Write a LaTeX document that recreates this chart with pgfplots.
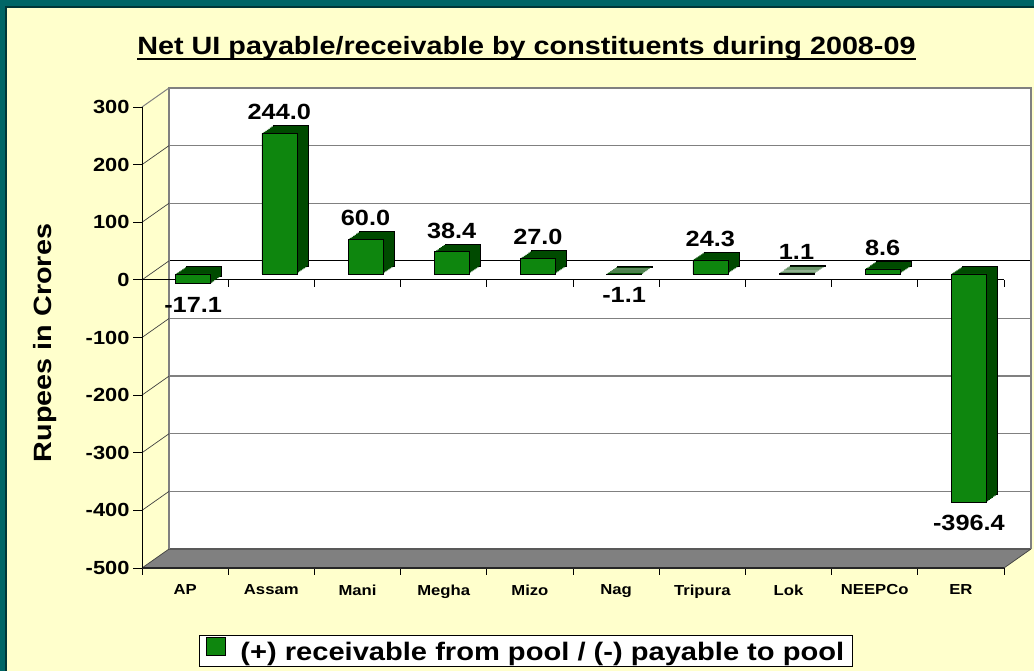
\documentclass[border=0pt]{standalone}
\usepackage{fontspec}
\setmainfont{Liberation Sans}[FakeStretch=1.15]
\usepackage{pgfplots}
\usepackage{pgfplotstable}
\pgfplotsset{compat=1.18}
\definecolor{tealbg}{RGB}{0,102,102}
\definecolor{tealdark}{RGB}{0,55,55}
\definecolor{bgyellow}{RGB}{255,255,204}
\definecolor{frontgreen}{RGB}{14,134,14}
\definecolor{sidegreen}{RGB}{0,74,0}
\definecolor{wallgrey}{RGB}{128,128,128}

\pgfplotstableread{
x y
0 -17.1
1 244.0
2 60.0
3 38.4
4 27.0
5 -1.1
6 24.3
7 1.1
8 8.6
9 -396.4
}\uidata

\begin{document}
\begin{tikzpicture}
\useasboundingbox (0,0) rectangle (1034pt,671pt);
\fill[tealbg] (0,0) rectangle (1034pt,671pt);
\fill[tealdark] (5pt,0) rectangle (1034pt,665pt);
\fill[bgyellow] (7pt,0) rectangle (1034pt,663pt);
\node[font=\bfseries\fontsize{25}{25}\selectfont, anchor=base, inner sep=0pt] (title) at (526.5pt,616pt) {Net UI payable/receivable by constituents during 2008-09};
\draw[line width=2pt] ([yshift=-4pt]title.base west) -- ([yshift=-4pt]title.base east);
\node[rotate=90, font=\bfseries\fontsize{25}{25}\selectfont] at (45pt,328pt) {Rupees in Crores};
\begin{axis}[
  at={(142pt,103pt)}, anchor=south west,
  scale only axis, width=862pt, height=461pt,
  xmin=-0.5, xmax=9.5, ymin=-500, ymax=300,
  clip=false, axis on top,
  axis x line*=bottom, axis y line*=left,
  x axis line style={line width=1.8pt, draw=black!85},
  y axis line style={line width=0.8pt, draw=black},
  tick align=outside, tick pos=left,
  xtick={0,...,9},
  xticklabels={AP,Assam,Mani,Megha,Mizo,Nag,Tripura,Lok,NEEPCo,ER},
  minor xtick={-0.5,0.5,...,9.5},
  major x tick style={draw=none},
  minor x tick style={draw=black, line width=0.8pt},
  minor tick length=7pt, major tick length=9pt,
  ytick={-500,-400,...,300},
  yticklabels={-500,-400,-300,-200,-100,0,100,200,300},
  y tick style={draw=black, line width=0.8pt},
  xticklabel style={font=\bfseries\fontsize{14.5}{14.5}\selectfont, yshift=-4pt},
  yticklabel style={font=\bfseries\fontsize{19}{19}\selectfont},
  /pgf/number format/assume math mode=true,
  legend style={at={(0.4455,-0.179)}, anchor=center, draw=black, line width=0.8pt, fill=white,
    font=\bfseries\fontsize{25.3}{25.3}\selectfont, inner xsep=6pt, inner ysep=2pt},
  legend image code/.code={\draw[fill=frontgreen, draw=black, line width=0.6pt] (0pt,-9pt) rectangle (19pt,9pt);},
]
% back wall
\fill[white] ([shift={(27pt,19pt)}]axis cs:-0.5,-500) rectangle ([shift={(27pt,19pt)}]axis cs:9.5,300);
% floor
\fill[wallgrey] (axis cs:-0.5,-500) -- (axis cs:9.5,-500) -- ([shift={(27pt,19pt)}]axis cs:9.5,-500) -- ([shift={(27pt,19pt)}]axis cs:-0.5,-500) -- cycle;
\draw[black!65, line width=1.2pt] ([shift={(27pt,19pt)}]axis cs:-0.5,-500) -- ([shift={(27pt,19pt)}]axis cs:9.5,-500);
% back grid lines
\pgfplotsinvokeforeach{-400,-300,-200,-100,100,200}{
  \draw[wallgrey, line width=1.3pt] ([shift={(27pt,19pt)}]axis cs:-0.5,#1) -- ([shift={(27pt,19pt)}]axis cs:9.5,#1);
}
\draw[black, line width=1.1pt] ([shift={(27pt,19pt)}]axis cs:-0.5,0) -- ([shift={(27pt,19pt)}]axis cs:9.5,0);
\draw[wallgrey, line width=1.3pt] ([shift={(27pt,19pt)}]axis cs:-0.5,-500) -- ([shift={(27pt,19pt)}]axis cs:-0.5,300) -- ([shift={(27pt,19pt)}]axis cs:9.5,300) -- ([shift={(27pt,19pt)}]axis cs:9.5,-500);
% side diagonals
\pgfplotsinvokeforeach{-500,-400,-300,-200,-100,0,100,200}{
  \draw[black!75, line width=0.7pt] (axis cs:-0.5,#1) -- ([shift={(27pt,19pt)}]axis cs:-0.5,#1);
}
\draw[wallgrey, line width=1pt] (axis cs:-0.5,300) -- ([shift={(27pt,19pt)}]axis cs:-0.5,300);
\draw[black!75, line width=0.7pt] (axis cs:9.5,-500) -- ([shift={(27pt,19pt)}]axis cs:9.5,-500);
% front zero line with ticks
\draw[black, line width=1pt] (axis cs:-0.5,0) -- (axis cs:9.5,0);
\pgfplotsinvokeforeach{0.5,1.5,2.5,3.5,4.5,5.5,6.5,7.5,8.5,9.5}{
  \draw[black, line width=0.8pt] (axis cs:#1,0) -- ++(0pt,-7pt);
}
% bar depth layers
\addplot[ybar, bar width=35pt, bar shift=19pt, yshift=13.7pt, fill=sidegreen, draw=black, line width=0.5pt, forget plot] table[x=x,y=y]{\uidata};
\addplot[ybar, bar width=35pt, bar shift=17.5pt, yshift=12.6pt, fill=sidegreen, draw=none, forget plot] table[x=x,y=y]{\uidata};
\addplot[ybar, bar width=35pt, bar shift=16pt, yshift=11.6pt, fill=sidegreen, draw=none, forget plot] table[x=x,y=y]{\uidata};
\addplot[ybar, bar width=35pt, bar shift=14.5pt, yshift=10.5pt, fill=sidegreen, draw=none, forget plot] table[x=x,y=y]{\uidata};
\addplot[ybar, bar width=35pt, bar shift=13pt, yshift=9.5pt, fill=sidegreen, draw=none, forget plot] table[x=x,y=y]{\uidata};
\addplot[ybar, bar width=35pt, bar shift=11.5pt, yshift=8.4pt, fill=sidegreen, draw=none, forget plot] table[x=x,y=y]{\uidata};
\addplot[ybar, bar width=35pt, bar shift=10pt, yshift=7.4pt, fill=sidegreen, draw=none, forget plot] table[x=x,y=y]{\uidata};
\addplot[ybar, bar width=35pt, bar shift=9pt, yshift=6.7pt, fill=sidegreen, draw=none, forget plot] table[x=x,y=y]{\uidata};
% front faces
\addplot[ybar, bar width=35pt, bar shift=8pt, yshift=6pt, fill=frontgreen, draw=black, line width=0.6pt,
  point meta=y,
  nodes near coords={\pgfmathprintnumber[fixed,fixed zerofill,precision=1]{\pgfplotspointmeta}},
  nodes near coords align=vertical,
  every node near coord/.append style={font=\bfseries\fontsize{22}{22}\selectfont, text=black, inner ysep=13pt, xshift=8pt}
] table[x=x,y=y]{\uidata};
\addlegendentry{\hspace{13pt}(+) receivable from pool / (-) payable to pool}
\end{axis}
\end{tikzpicture}
\end{document}
